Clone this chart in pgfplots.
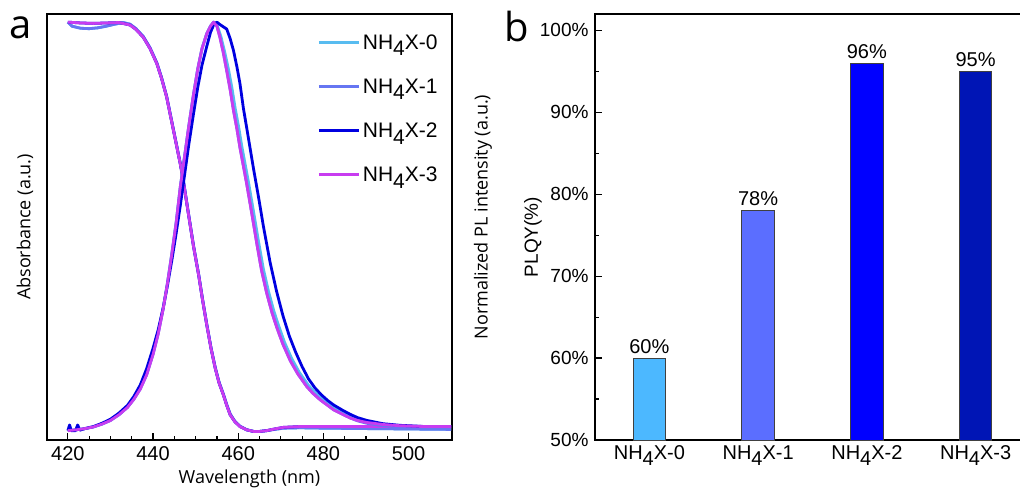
\documentclass[border=0pt]{standalone}
\usepackage{pgfplots}
\pgfplotsset{compat=1.18}
\usepackage{fontspec}
\setmainfont{Liberation Sans}
\newfontfamily\osans{Open Sans}
\definecolor{c0}{HTML}{58BCF0}
\definecolor{c1}{HTML}{6676F2}
\definecolor{c2}{HTML}{0000E0}
\definecolor{c3}{HTML}{C83CF0}
\definecolor{b0}{HTML}{4CB8FF}
\definecolor{b1}{HTML}{5B6EFF}
\definecolor{b2}{HTML}{0000FF}
\definecolor{b3}{HTML}{0015B5}
\newcommand{\nh}[1]{NH\raisebox{-0.32em}{4}X-#1}

\pgfplotstableread{
x y
420 1.000
423 0.998
426 0.997
429 0.998
432 0.999
434.6 0.993
436 0.982
437.7 0.963
439.3 0.935
440.9 0.898
442 0.862
443.2 0.816
444.8 0.734
446.4 0.652
447.1 0.611
448.3 0.530
449.5 0.450
450.7 0.380
451.6 0.320
452.6 0.258
453.6 0.200
454.6 0.151
455.5 0.115
456.5 0.086
457.3 0.060
458.1 0.037
459.2 0.020
460.4 0.008
462 0.000
463.6 -0.004
465 -0.004
466.7 -0.002
468.5 0.002
470.6 0.006
474.5 0.008
480 0.008
490 0.008
500 0.008
510 0.008
}\absthree

\pgfplotstableread{
x y
420 1.000
421 0.990
423 0.985
425 0.984
427 0.986
429 0.990
431 0.995
433 0.999
434.6 0.995
436 0.984
437.7 0.965
439.3 0.937
440.9 0.900
442 0.864
443.2 0.818
444.8 0.736
446.4 0.654
447.1 0.613
448.3 0.532
449.5 0.452
450.7 0.382
451.6 0.322
452.6 0.260
453.6 0.202
454.6 0.153
455.5 0.117
456.5 0.088
457.3 0.062
458.1 0.039
459.2 0.021
460.4 0.009
462 0.000
463.6 -0.004
465 -0.004
466.7 -0.002
468.5 0.001
470.6 0.004
474.5 0.005
480 0.004
490 0.003
500 0.002
510 0.001
}\absone

\pgfplotstableread{
x y
420 -0.002
422 0.000
424 0.003
426 0.007
428 0.014
430 0.023
432 0.037
434 0.055
435.5 0.075
437 0.100
438.5 0.135
440 0.185
441.2 0.235
442.4 0.298
443.4 0.360
444.4 0.430
445.4 0.505
446.4 0.595
447.4 0.670
448.4 0.745
449.5 0.822
450.5 0.885
451.5 0.935
452.6 0.971
453.5 0.990
454.2 1.000
455 0.990
455.7 0.963
456.5 0.925
457.3 0.881
458.1 0.835
458.9 0.783
459.7 0.738
460.4 0.693
461.2 0.648
462 0.603
463.2 0.530
464.4 0.455
465.5 0.390
466.7 0.335
468 0.285
469.1 0.250
470.5 0.210
472.2 0.170
474 0.137
476.1 0.106
477.5 0.090
479.2 0.074
481 0.060
482.4 0.049
484.5 0.038
486.3 0.029
488 0.023
490.2 0.018
494 0.013
498 0.010
504 0.008
510 0.008
}\plthree

\pgfplotstableread{
x y
420 -0.002
422 0.000
424 0.003
426 0.007
428 0.014
430 0.023
432 0.037
434 0.056
435.5 0.076
437 0.102
438.5 0.137
440 0.188
441.2 0.238
442.4 0.300
443.4 0.362
444.4 0.432
445.4 0.507
446.4 0.596
447.4 0.671
448.4 0.746
449.5 0.823
450.5 0.886
451.5 0.936
452.6 0.972
453.5 0.991
454.3 1.000
455.1 0.991
455.9 0.966
456.8 0.928
457.7 0.885
458.5 0.840
459.3 0.788
460.1 0.743
460.8 0.698
461.6 0.653
462.4 0.608
463.6 0.535
464.8 0.460
465.9 0.395
467.1 0.340
468.4 0.290
469.5 0.255
470.9 0.214
472.6 0.174
474.4 0.140
476.5 0.109
477.9 0.093
479.6 0.076
481.4 0.062
482.8 0.051
484.9 0.039
486.7 0.030
488.4 0.024
490.6 0.018
494.4 0.013
498 0.010
504 0.008
510 0.008
}\plzero

\pgfplotstableread{
x y
420 -0.002
422 0.000
424 0.003
426 0.007
428 0.014
430 0.023
432 0.037
434 0.055
435.5 0.075
437 0.100
438.5 0.135
440 0.185
441.2 0.235
442.4 0.298
443.4 0.360
444.4 0.430
445.4 0.505
446.4 0.595
447.4 0.670
448.4 0.745
449.5 0.822
450.5 0.885
451.5 0.935
452.6 0.971
453.5 0.990
454.2 1.000
455 0.990
455.7 0.963
456.5 0.925
457.3 0.881
458.1 0.835
458.9 0.783
459.7 0.738
460.4 0.693
461.2 0.648
462 0.603
463.2 0.530
464.4 0.455
465.5 0.390
466.7 0.335
468 0.285
469.1 0.250
470.5 0.210
472.2 0.170
474 0.137
476.1 0.106
477.5 0.090
479.2 0.074
481 0.060
482.4 0.049
484.5 0.038
486.3 0.029
488 0.022
490.2 0.016
494 0.010
498 0.007
504 0.004
510 0.002
}\plone

\pgfplotstableread{
x y
420 -0.002
420.4 0.012
420.8 -0.002
421.8 -0.002
422.3 0.012
422.8 -0.001
424 0.003
426 0.008
428 0.016
430 0.026
432 0.041
434 0.060
435.5 0.082
437 0.110
438.5 0.150
440 0.200
441.2 0.245
442.4 0.300
443.4 0.355
444.4 0.415
445.4 0.480
446.4 0.550
447.4 0.625
448.4 0.700
449.5 0.775
450.5 0.840
451.5 0.895
452.6 0.940
453.5 0.975
454.3 0.995
455 1.000
455.6 0.995
456.3 0.990
457.3 0.983
458.1 0.960
458.9 0.930
459.7 0.890
460.4 0.850
461.2 0.790
462 0.740
462.8 0.690
463.6 0.640
464.7 0.575
465.9 0.500
467.5 0.410
469 0.340
470.5 0.280
472 0.230
473.5 0.190
475 0.155
476.5 0.125
478 0.103
479.5 0.086
481 0.072
482.4 0.061
484.5 0.048
486.3 0.038
488 0.030
490.2 0.023
494 0.015
498 0.011
504 0.008
510 0.008
}\pltwo

\begin{document}
\begin{tikzpicture}
\useasboundingbox (0pt,0pt) rectangle (1020pt,490pt);
\begin{scope}[shift={(47pt,50pt)}]
\begin{axis}[
  scale only axis,
  width=405pt, height=426pt,
  xmin=415.1, xmax=510.2, ymin=-0.025, ymax=1.02,
  xtick={420,440,...,500}, minor x tick num=3, ytick=\empty,
  /pgf/number format/assume math mode=true,
  tick align=inside, xtick pos=bottom,
  major tick length=7pt, minor tick length=4pt,
  axis line style={line width=1.5pt},
  every tick/.style={black, line width=1.2pt},
  xticklabel style={font=\fontsize{20}{22}\selectfont, yshift=-3pt},
  xlabel={\osans Wavelength (nm)}, ylabel={\osans Absorbance (a.u.)},
  label style={font=\fontsize{18}{20}\selectfont},
  xlabel style={at={(axis description cs:0.5,0)}, anchor=center, yshift=-39pt},
  ylabel style={at={(axis description cs:0,0.5)}, anchor=center, yshift=22pt},
  legend style={draw=none, fill=none, at={(0.667,0.958)}, anchor=north west,
    font=\fontsize{21}{23}\selectfont, row sep=23pt, inner sep=0pt,
    nodes={inner sep=2.5pt}},
  legend cell align=left,
  legend image code/.code={\draw[#1, line width=3pt] (0pt,0pt) -- (40pt,0pt);},
  every axis plot/.append style={line width=2.8pt, line join=round},
]
\addplot[c0, forget plot] table {\absone};
\addplot[c1, forget plot] table {\absone};
\addplot[c2, forget plot] table {\absthree};
\addplot[c3, forget plot] table {\absthree};
\addplot[c0] table {\plzero};
\addlegendentry{\nh0}
\addplot[c1] table {\plone};
\addlegendentry{\nh1}
\addplot[c2] table {\pltwo};
\addlegendentry{\nh2}
\addplot[c3] table {\plthree};
\addlegendentry{\nh3}
\end{axis}
\end{scope}

\begin{scope}[shift={(595pt,50pt)}]
\begin{axis}[
  scale only axis,
  width=435pt, height=426pt,
  xmin=-0.5, xmax=3.5, ymin=50, ymax=102,
  ybar, bar width=32.5pt, bar shift=0pt,
  xtick={0,1,2,3}, xticklabels={\nh0,\nh1,\nh2,\nh3},
  x tick style={draw=none},
  ytick={50,60,...,100}, yticklabels={50\%,60\%,70\%,80\%,90\%,100\%},
  minor y tick num=1, ytick pos=left, tick align=inside,
  major tick length=7pt, minor tick length=4pt,
  axis line style={line width=1.5pt},
  y tick style={black, line width=1.2pt},
  xticklabel style={font=\fontsize{20}{22}\selectfont, yshift=-2pt},
  yticklabel style={font=\fontsize{19}{21}\selectfont, xshift=-3pt},
  ylabel={PLQY(\%)},
  ylabel style={font=\fontsize{19}{21}\selectfont, at={(axis description cs:0,0.5)}, anchor=center, yshift=62pt, xshift=-10pt},
  nodes near coords={\pgfmathprintnumber[assume math mode=true]{\pgfplotspointmeta}\%},
  every node near coord/.append style={font=\fontsize{20}{22}\selectfont, black, yshift=1pt},
  point meta=y,
]
\addplot[fill=b0, draw=black!75, line width=0.8pt] coordinates {(0,60)};
\addplot[fill=b1, draw=black!75, line width=0.8pt] coordinates {(1,78)};
\addplot[fill=b2, draw=black!75, line width=0.8pt] coordinates {(2,96)};
\addplot[fill=b3, draw=black!75, line width=0.8pt] coordinates {(3,95)};
\end{axis}
\end{scope}

\node[rotate=90, font=\osans\fontsize{18}{20}\selectfont] at (483pt,273pt) {Normalized PL intensity (a.u.)};
\node[font=\osans\fontsize{40}{44}\selectfont] at (21pt,462pt) {a};
\node[font=\osans\fontsize{40}{44}\selectfont] at (517pt,463pt) {b};
\end{tikzpicture}
\end{document}
